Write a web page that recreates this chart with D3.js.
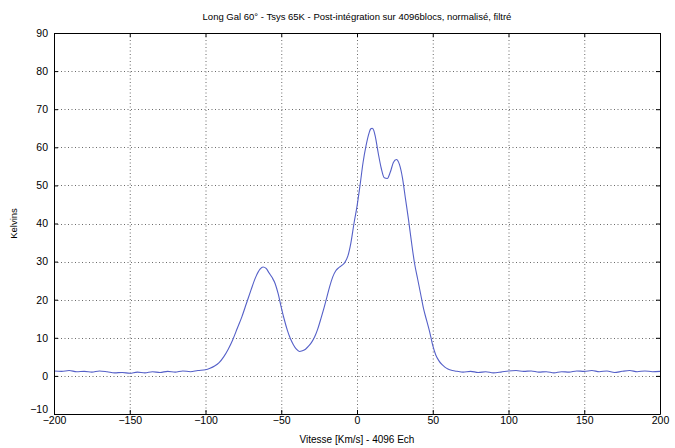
<!DOCTYPE html>
<html><head><meta charset="utf-8">
<script src="https://cdn.jsdelivr.net/npm/d3@7"></script>
<style>body{margin:0;background:#fff;} svg{display:block;font-family:"Liberation Sans",Arial,sans-serif;}</style>
</head><body>
<script>
const title = "Long Gal 60° - Tsys 65K - Post-intégration sur 4096blocs, normalisé, filtré";
const xLabel = "Vitesse [Km/s] - 4096 Ech";
const yLabel = "Kelvins";
const xTicks = [-200,-150,-100,-50,0,50,100,150,200];
const yTicks = [-10,0,10,20,30,40,50,60,70,80,90];
const velocity = [-200,-195,-190,-185,-180,-175,-170,-165,-160,-155,-150,-145,-140,-135,-130,-125,-120,-115,-110,-105,
  -100,-97,-94,-91,-88,-85,-82,-79,-76,-73,-70,-67,-64,-62,-60,-58,-56,-54,-52,-50,-48,-46,-44,-42,-40,-38,-36,-34,-32,-30,
  -28,-26,-24,-22,-20,-18,-16,-14,-12,-10,-8,-6,-4,-2,0,2,4,6,8,9,10,11,12,14,16,18,20,22,24,26,28,30,32,34,36,38,40,42,44,46,48,50,52,54,56,58,60,63,66,70,
  75,80,85,90,95,100,105,110,115,120,125,130,135,140,145,150,155,160,165,170,175,180,185,190,195,200];
const kelvins = [1.3,1.2,1.4,1.1,1.2,1.0,1.3,1.1,0.8,0.9,0.7,1.0,0.8,1.1,0.9,1.2,1.0,1.3,1.1,1.4,
  1.6,2.0,2.6,3.5,5.0,7.0,9.5,12.5,15.5,19.0,22.5,25.8,28.0,28.6,28.2,27.0,25.8,24.2,21.5,18.0,14.8,12.0,9.8,8.2,7.0,6.4,6.6,7.0,7.8,8.8,
  10.2,12.2,14.8,17.5,20.5,23.5,26.0,27.6,28.4,29.0,29.8,31.5,35.0,40.0,44.5,50.0,56.0,60.5,63.8,64.8,65.0,64.5,63.0,58.5,54.5,52.0,51.8,53.5,56.0,56.8,55.5,52.0,46.5,41.0,35.0,29.5,25.5,21.5,17.5,14.5,11.5,8.0,5.5,4.0,3.0,2.3,1.8,1.4,1.2,1.0,
  1.2,0.9,1.1,0.8,1.0,1.3,1.4,1.2,1.3,1.0,1.1,0.8,1.1,1.0,1.3,1.2,1.4,1.1,1.3,0.9,1.2,1.4,1.1,1.3,1.1,1.2];

const W = 675, H = 448;
const m = {left:54, right:15, top:33, bottom:34};
const svg = d3.select("body").append("svg").attr("width", W).attr("height", H);
const x = d3.scaleLinear().domain([-200,200]).range([m.left, W - m.right]);
const y = d3.scaleLinear().domain([-10,90]).range([H - m.bottom, m.top]);

// grid
const g = svg.append("g").attr("stroke","#444").attr("stroke-width",0.8).attr("stroke-dasharray","1,2.5");
g.selectAll(".gx").data(xTicks.slice(1,-1)).enter().append("line")
  .attr("x1", d=>x(d)+0.5).attr("x2", d=>x(d)+0.5).attr("y1", m.top).attr("y2", H-m.bottom);
g.selectAll(".gy").data(yTicks.slice(1,-1)).enter().append("line")
  .attr("y1", d=>Math.round(y(d))+0.5).attr("y2", d=>Math.round(y(d))+0.5).attr("x1", m.left).attr("x2", W-m.right);

// line
const line = d3.line().x((d,i)=>x(velocity[i])).y(d=>y(d)).curve(d3.curveMonotoneX);
svg.append("path").datum(kelvins).attr("d", line).attr("fill","none")
  .attr("stroke","#5560c8").attr("stroke-width",1.1);

// axes
const xb = d3.axisBottom(x).tickValues(xTicks).tickSizeInner(-4).tickSizeOuter(0).tickPadding(3);
const yl = d3.axisLeft(y).tickValues(yTicks).tickSizeInner(-4).tickSizeOuter(0).tickPadding(6);
const xt = d3.axisTop(x).tickValues(xTicks).tickSizeInner(-4).tickSizeOuter(0).tickFormat("");
const yr = d3.axisRight(y).tickValues(yTicks).tickSizeInner(-4).tickSizeOuter(0).tickFormat("");
function style(sel){ sel.selectAll("path,line").attr("stroke","#000"); sel.selectAll("text").attr("fill","#000").attr("font-size","10.5px").attr("font-family","Liberation Sans, Arial, sans-serif"); }
svg.append("g").attr("transform",`translate(0,${H-m.bottom})`).call(xb).call(style);
const yAxisG = svg.append("g").attr("transform",`translate(${m.left},0)`).call(yl).call(style);
yAxisG.selectAll(".tick text").filter(d=>d===-10).attr("dy","-0.15em");
svg.append("g").attr("transform",`translate(0,${m.top})`).call(xt).call(style);
svg.append("g").attr("transform",`translate(${W-m.right},0)`).call(yr).call(style);

svg.append("text").attr("x",(m.left+W-m.right)/2).attr("y",20).attr("text-anchor","middle")
  .attr("font-size","9.5px").text(title);
svg.append("text").attr("x",(m.left+W-m.right)/2).attr("y",443).attr("text-anchor","middle")
  .attr("font-size","10px").text(xLabel);
svg.append("text").attr("transform",`translate(17,${(m.top+H-m.bottom)/2}) rotate(-90)`).attr("text-anchor","middle")
  .attr("font-size","9.5px").text(yLabel);
</script>
</body></html>
